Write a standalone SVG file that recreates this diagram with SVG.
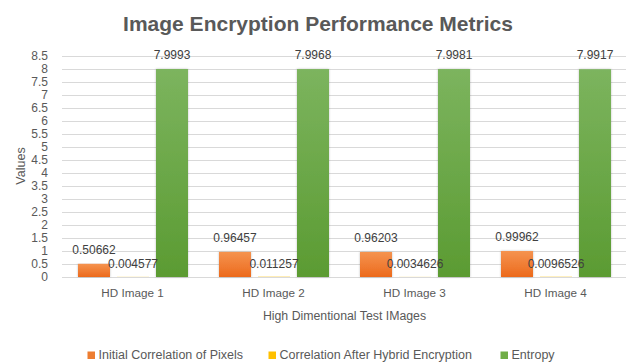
<svg xmlns="http://www.w3.org/2000/svg" width="636" height="363" viewBox="0 0 636 363">
<defs>
<linearGradient id="gO" x1="0" y1="0" x2="0" y2="1"><stop offset="0" stop-color="#f5934f"/><stop offset="1" stop-color="#ec6a1c"/></linearGradient>
<linearGradient id="gG" x1="0" y1="0" x2="0" y2="1"><stop offset="0" stop-color="#7cb45e"/><stop offset="1" stop-color="#5b9b32"/></linearGradient>
<filter id="sh" x="-20%" y="-5%" width="140%" height="110%"><feDropShadow dx="0" dy="0" stdDeviation="1" flood-color="#000" flood-opacity="0.25"/></filter>
<style>
.t{font-family:"Liberation Sans",Arial,sans-serif;fill:#595959}
.title{font-size:21px;font-weight:bold;text-anchor:middle}
.tick{font-size:12px;text-anchor:end}
.cat{font-size:11.7px;text-anchor:middle}
.dl{font-family:"Liberation Sans",Arial,sans-serif;font-size:12px;fill:#404040;text-anchor:middle}
.leg{font-size:12.5px}
.grid line{stroke:#d9d9d9;stroke-width:1}
.o{fill:url(#gO);filter:url(#sh)}
.y{fill:#ffc000}
.g{fill:url(#gG);filter:url(#sh)}
</style>
</defs>
<rect width="636" height="363" fill="#fff"/>
<text class="t title" x="318" y="31">Image Encryption Performance Metrics</text>
<g id="grid" class="grid">
<line x1="62" y1="56.5" x2="626" y2="56.5"/>
<line x1="62" y1="69.5" x2="626" y2="69.5"/>
<line x1="62" y1="82.5" x2="626" y2="82.5"/>
<line x1="62" y1="95.5" x2="626" y2="95.5"/>
<line x1="62" y1="108.5" x2="626" y2="108.5"/>
<line x1="62" y1="121.5" x2="626" y2="121.5"/>
<line x1="62" y1="134.5" x2="626" y2="134.5"/>
<line x1="62" y1="147.5" x2="626" y2="147.5"/>
<line x1="62" y1="160.5" x2="626" y2="160.5"/>
<line x1="62" y1="173.5" x2="626" y2="173.5"/>
<line x1="62" y1="186.5" x2="626" y2="186.5"/>
<line x1="62" y1="199.5" x2="626" y2="199.5"/>
<line x1="62" y1="212.5" x2="626" y2="212.5"/>
<line x1="62" y1="225.5" x2="626" y2="225.5"/>
<line x1="62" y1="238.5" x2="626" y2="238.5"/>
<line x1="62" y1="251.5" x2="626" y2="251.5"/>
<line x1="62" y1="264.5" x2="626" y2="264.5"/>
<line x1="62" y1="277.5" x2="626" y2="277.5"/>
</g>
<g id="yticks" class="t tick">
<text x="48" y="60">8.5</text>
<text x="48" y="73">8</text>
<text x="48" y="86">7.5</text>
<text x="48" y="99">7</text>
<text x="48" y="112">6.5</text>
<text x="48" y="125">6</text>
<text x="48" y="138">5.5</text>
<text x="48" y="151">5</text>
<text x="48" y="164">4.5</text>
<text x="48" y="177">4</text>
<text x="48" y="190">3.5</text>
<text x="48" y="203">3</text>
<text x="48" y="216">2.5</text>
<text x="48" y="229">2</text>
<text x="48" y="242">1.5</text>
<text x="48" y="255">1</text>
<text x="48" y="268">0.5</text>
<text x="48" y="281">0</text>
</g>
<text class="t" font-size="12.5" text-anchor="middle" transform="translate(25,166) rotate(-90)">Values</text>
<g id="series-initial">
<rect class="o" x="78" y="263.83" width="32" height="13.17"/>
<rect class="o" x="219" y="251.92" width="32" height="25.08"/>
<rect class="o" x="360" y="251.99" width="32" height="25.01"/>
<rect class="o" x="501" y="251.01" width="32" height="25.99"/>
</g>
<g id="series-after">
<rect class="y" x="117" y="276.88" width="32" height="0.12"/>
<rect class="y" x="258" y="276.71" width="32" height="0.29"/>
<rect class="y" x="399" y="276.91" width="32" height="0.09"/>
<rect class="y" x="540" y="276.75" width="32" height="0.25"/>
</g>
<g id="series-entropy">
<rect class="g" x="156" y="69.02" width="32" height="207.98"/>
<rect class="g" x="297" y="69.08" width="32" height="207.92"/>
<rect class="g" x="438" y="69.05" width="32" height="207.95"/>
<rect class="g" x="579" y="69.22" width="32" height="207.78"/>
</g>
<g id="labels">
<text class="dl" x="94" y="254">0.50662</text>
<text class="dl" x="235" y="242">0.96457</text>
<text class="dl" x="376" y="242">0.96203</text>
<text class="dl" x="517" y="241">0.99962</text>
<text class="dl" x="133" y="267.5">0.004577</text>
<text class="dl" x="274" y="267.5">0.011257</text>
<text class="dl" x="415" y="267.5">0.0034626</text>
<text class="dl" x="556" y="267.5">0.0096526</text>
<text class="dl" x="172" y="59">7.9993</text>
<text class="dl" x="313" y="59">7.9968</text>
<text class="dl" x="454" y="59">7.9981</text>
<text class="dl" x="595" y="59">7.9917</text>
</g>
<g id="xcats" class="t cat">
<text x="132.5" y="297">HD Image 1</text>
<text x="273.5" y="297">HD Image 2</text>
<text x="414.5" y="297">HD Image 3</text>
<text x="555.5" y="297">HD Image 4</text>
</g>
<text class="t" font-size="12.3" text-anchor="middle" x="344.5" y="320">High Dimentional Test IMages</text>
<g id="legend" class="t leg">
<rect x="87.5" y="351.5" width="7.5" height="7.5" fill="#ed7d31"/>
<text x="98.5" y="359">Initial Correlation of Pixels</text>
<rect x="268.5" y="351.5" width="7.5" height="7.5" fill="#ffc000"/>
<text x="279.5" y="359">Correlation After Hybrid Encryption</text>
<rect x="500.5" y="351.5" width="7.5" height="7.5" fill="#70ad47"/>
<text x="511.5" y="359">Entropy</text>
</g>
</svg>
